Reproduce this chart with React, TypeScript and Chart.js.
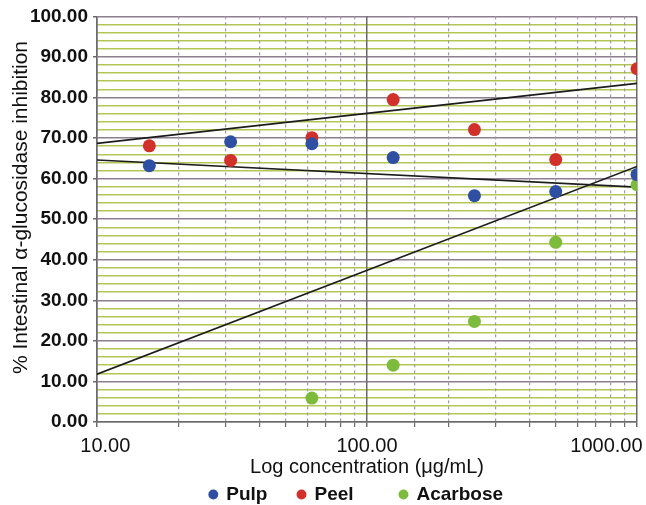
import React, { useEffect, useRef } from 'react';
import { Chart, registerables } from 'chart.js';

Chart.register(...registerables);

const concentrations = [15.625, 31.25, 62.5, 125, 250, 500, 1000];
const pulpValues = [63.2, 69.1, 68.6, 65.2, 55.8, 56.8, 61.0];
const peelValues = [68.1, 64.5, 70.1, 79.5, 72.1, 64.7, 87.1];
const acarboseConcentrations = [62.5, 125, 250, 500, 1000];
const acarboseValues = [5.9, 14.0, 24.8, 44.3, 58.5];

const trendX = [10, 1000];
const pulpTrend = [64.6, 57.9];
const peelTrend = [68.7, 83.5];
const acarboseTrend = [11.8, 63.0];

const xTickValues = [10, 100, 1000];
const seriesNames = ['Pulp', 'Peel', 'Acarbose'];
const seriesColors = ['#2f4fa3', '#d1302b', '#7dbb3c'];
// trailing spaces used to reproduce the legend's uneven item spacing
const legendGaps = [2, 5, 4];

const FONT = "'Liberation Sans', Arial, Helvetica, sans-serif";

const pts = (xs: number[], ys: number[]) => xs.map((x, i) => ({ x, y: ys[i] }));

export default function App() {
  const ref = useRef<HTMLCanvasElement>(null);

  useEffect(() => {
    const canvas = ref.current;
    if (!canvas) return;
    Chart.defaults.font.family = FONT;
    const defaultGen = Chart.defaults.plugins.legend.labels.generateLabels;

    const scatter = (i: number, xs: number[], ys: number[]) => ({
      type: 'scatter' as const,
      label: seriesNames[i],
      data: pts(xs, ys),
      backgroundColor: seriesColors[i],
      borderColor: seriesColors[i],
      borderWidth: 0,
      pointRadius: 6.5,
      pointStyle: 'circle',
      order: 1,
    });
    const trend = (label: string, ys: number[]) => ({
      type: 'scatter' as const,
      label,
      data: pts(trendX, ys),
      showLine: true,
      pointRadius: 0,
      borderColor: '#1c1c1c',
      backgroundColor: '#1c1c1c',
      borderWidth: 1.6,
      order: 2,
    });

    const isMajorY = (c: any) => c.tick && Math.abs(c.tick.value % 10) < 1e-6;
    const isMajorX = (c: any) => c.tick && xTickValues.includes(c.tick.value);

    const chart = new Chart(canvas, {
      type: 'scatter',
      data: {
        datasets: [
          scatter(0, concentrations, pulpValues),
          scatter(1, concentrations, peelValues),
          scatter(2, acarboseConcentrations, acarboseValues),
          trend('Pulp trend', pulpTrend),
          trend('Peel trend', peelTrend),
          trend('Acarbose trend', acarboseTrend),
        ] as any,
      },
      options: {
        responsive: false,
        animation: false,
        layout: { padding: { top: 15, right: 9, left: 0, bottom: -9 } },
        plugins: {
          tooltip: { enabled: false },
          legend: {
            position: 'bottom',
            fullSize: false,
            labels: {
              usePointStyle: true,
              boxWidth: 7,
              boxHeight: 7,
              padding: 20,
              color: '#111',
              font: { size: 19, family: FONT, weight: 'bold' },
              filter: (item: any) => item.datasetIndex < 3,
              generateLabels: (ch: any) => {
                const items = defaultGen(ch);
                items.forEach((it: any) => {
                  const g = legendGaps[it.datasetIndex];
                  if (g) it.text = it.text + ' '.repeat(g);
                });
                return items;
              },
            },
          },
        },
        scales: {
          y: {
            min: 0,
            max: 100,
            afterFit: (s: any) => {
              s.width = 97;
            },
            ticks: {
              stepSize: 2,
              autoSkip: false,
              padding: 5,
              color: '#111',
              font: { size: 19, family: FONT, weight: 'bold' },
              callback: (v: any) => (Math.abs(Number(v) % 10) < 1e-6 ? Number(v).toFixed(2) : ''),
            },
            grid: {
              color: (c: any) => (isMajorY(c) ? '#8c7f8e' : '#b3c755'),
              lineWidth: (c: any) => (isMajorY(c) ? 1.5 : 1.6),
              tickLength: 4,
              tickColor: (c: any) => (isMajorY(c) ? '#6a6a6a' : 'rgba(0,0,0,0)'),
            },
            border: { color: '#6a6a6a', width: 1.5 },
            title: {
              display: true,
              text: '    % Intestinal α-glucosidase inhibition',
              color: '#111',
              font: { size: 21, family: FONT },
              padding: { top: 9, bottom: 0 },
            },
          },
          x: {
            type: 'logarithmic',
            min: 10,
            max: 1000,
            afterFit: (s: any) => {
              s.height = 43;
              s.paddingRight = 0;
              s.paddingLeft = 0;
            },
            ticks: {
              autoSkip: false,
              maxRotation: 0,
              minRotation: 0,
              padding: 7,
              color: '#111',
              font: { size: 20, family: FONT },
              callback: (v: any) => {
                const n = Number(v);
                if (!xTickValues.includes(n)) return '';
                const s = n.toFixed(2);
                if (n === xTickValues[0]) return '   ' + s;
                if (n === xTickValues[xTickValues.length - 1]) return s + '           ';
                return s;
              },
            },
            grid: {
              color: (c: any) => (isMajorX(c) ? '#6a6a6a' : '#9c9ca2'),
              lineWidth: (c: any) => (isMajorX(c) ? 1.5 : 1.2),
              tickLength: 5,
              tickColor: '#6a6a6a',
            },
            border: {
              color: '#6a6a6a',
              width: 1.5,
              dash: (c: any) => (c.tick && !xTickValues.includes(c.tick.value) ? [3, 3] : []),
            },
            title: {
              display: true,
              text: 'Log concentration (μg/mL)',
              color: '#111',
              font: { size: 20, family: FONT },
              padding: { top: 0, bottom: -14 },
            },
          },
        },
      } as any,
    });
    return () => chart.destroy();
  }, []);

  return (
    <div style={{ position: 'fixed', left: 0, top: 0, width: 646, height: 505, background: '#fff' }}>
      <canvas ref={ref} width={646} height={505} style={{ width: 646, height: 505, display: 'block' }} />
    </div>
  );
}
